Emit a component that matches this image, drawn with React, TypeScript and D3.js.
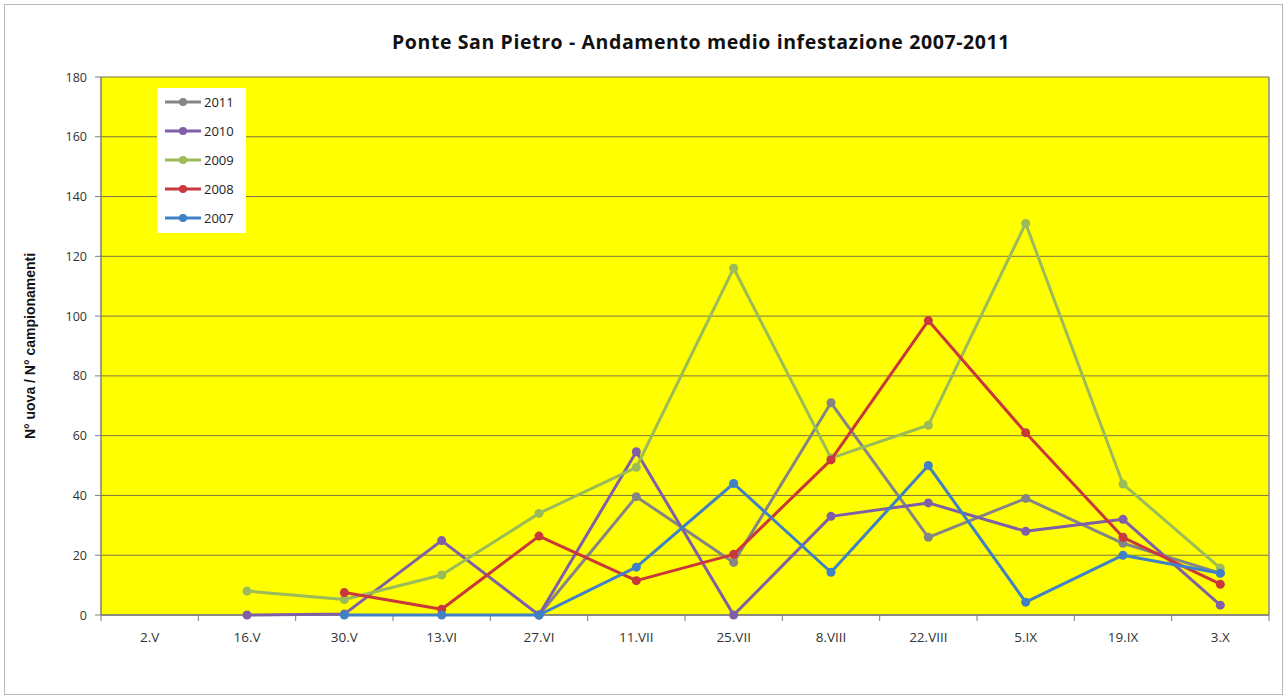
import React from "react";
import * as d3 from "d3";

const categories = ["2.V", "16.V", "30.V", "13.VI", "27.VI", "11.VII", "25.VII", "8.VIII", "22.VIII", "5.IX", "19.IX", "3.X"];
const yTicks = [0, 20, 40, 60, 80, 100, 120, 140, 160, 180];

// null = no value
const s2011 = [null, null, null, null, 0, 39.6, 17.6, 71, 26, 39, 24, 14];
const s2010 = [null, 0, 0.3, 24.9, 0, 54.6, 0, 33, 37.5, 28, 32, 3.3];
const s2009 = [null, 8, 5.2, 13.4, 34, 49.4, 116, 52.5, 63.5, 131, 43.8, 15.7];
const s2008 = [null, null, 7.5, 1.9, 26.4, 11.5, 20.3, 51.9, 98.5, 61, 26, 10.3];
const s2007 = [null, null, 0, 0, 0, 16, 44, 14.3, 50, 4.3, 20, 14];

const seriesNames = ["2011", "2010", "2009", "2008", "2007"];
const seriesColors = ["#858585", "#7f5fa8", "#9bbb59", "#c9383c", "#3f81c6"];
const seriesData = [s2011, s2010, s2009, s2008, s2007];

const W = 1287;
const H = 699;
const plot = { left: 101, right: 1269, top: 77, bottom: 615 };
const font = "'Open Sans', 'Liberation Sans', Arial, sans-serif";

export default function App() {
  const x = d3.scaleBand<string>().domain(categories).range([plot.left, plot.right]);
  const y = d3.scaleLinear().domain([0, 180]).range([plot.bottom, plot.top]);
  const cx = (c: string) => (x(c) as number) + x.bandwidth() / 2;

  const line = d3
    .line<[string, number | null]>()
    .defined((d) => d[1] !== null)
    .x((d) => cx(d[0]))
    .y((d) => y(d[1] as number));

  const boundaries = d3.range(categories.length + 1).map((i) => plot.left + i * x.bandwidth());

  return (
    <svg width={W} height={H} style={{ display: "block", position: "absolute", left: 0, top: 0 }}>
      <rect x={0} y={0} width={W} height={H} fill="#ffffff" />
      <rect x={4.5} y={4.5} width={W - 9} height={H - 9} fill="none" stroke="#b8b8b8" strokeWidth={1} />
      <text x={701} y={49} textAnchor="middle" fontFamily={font} fontWeight="bold" fontSize={19.5} letterSpacing={0.6} fill="#111">
        Ponte San Pietro - Andamento medio infestazione 2007-2011
      </text>
      <rect x={plot.left} y={plot.top} width={plot.right - plot.left} height={plot.bottom - plot.top} fill="#ffff00" />
      {yTicks.map((t) => (
        <g key={t}>
          <line x1={plot.left} x2={plot.right} y1={y(t)} y2={y(t)} stroke="#7d7545" strokeWidth={1} />
          <line x1={plot.left - 6} x2={plot.left} y1={y(t)} y2={y(t)} stroke="#7d7d7d" strokeWidth={1} />
          <text x={plot.left - 14} y={y(t) + 4.5} textAnchor="end" fontFamily={font} fontSize={12.5} fill="#333">
            {t}
          </text>
        </g>
      ))}
      <line x1={plot.right} x2={plot.right} y1={plot.top} y2={plot.bottom} stroke="#8a8a8a" strokeWidth={1.5} />
      <line x1={plot.left} x2={plot.left} y1={plot.top} y2={plot.bottom} stroke="#7d7d7d" strokeWidth={1.5} />
      <line x1={plot.left} x2={plot.right} y1={plot.bottom} y2={plot.bottom} stroke="#7d7d7d" strokeWidth={1.5} />
      {boundaries.map((b, i) => (
        <line key={i} x1={b} x2={b} y1={plot.bottom} y2={plot.bottom + 6} stroke="#7d7d7d" strokeWidth={1} />
      ))}
      {categories.map((c) => (
        <text key={c} x={cx(c)} y={plot.bottom + 27} textAnchor="middle" fontFamily={font} fontSize={13.5} fill="#333">
          {c}
        </text>
      ))}
      <text
        transform={`translate(35, ${(plot.top + plot.bottom) / 2}) rotate(-90)`}
        textAnchor="middle"
        fontFamily="'Liberation Sans', Arial, sans-serif"
        fontWeight="bold"
        fontSize={14}
        fill="#111"
      >
        N° uova / N° campionamenti
      </text>
      {seriesData.map((s, si) => {
        const pts = categories.map((c, i) => [c, s[i]] as [string, number | null]);
        return (
          <g key={si}>
            <path d={line(pts) as string} fill="none" stroke={seriesColors[si]} strokeWidth={3} strokeLinejoin="round" />
            {pts
              .filter((p) => p[1] !== null)
              .map((p, i) => (
                <circle key={i} cx={cx(p[0])} cy={y(p[1] as number)} r={4.5} fill={seriesColors[si]} />
              ))}
          </g>
        );
      })}
      <g>
        <rect x={157} y={88} width={89} height={145} fill="#ffffff" />
        {seriesNames.map((n, i) => {
          const ly = 102 + i * 29;
          return (
            <g key={n}>
              <line x1={165} x2={201} y1={ly} y2={ly} stroke={seriesColors[i]} strokeWidth={3} />
              <circle cx={183} cy={ly} r={4} fill={seriesColors[i]} />
              <text x={204} y={ly + 4.5} fontFamily={font} fontSize={13} fill="#222">
                {n}
              </text>
            </g>
          );
        })}
      </g>
    </svg>
  );
}
